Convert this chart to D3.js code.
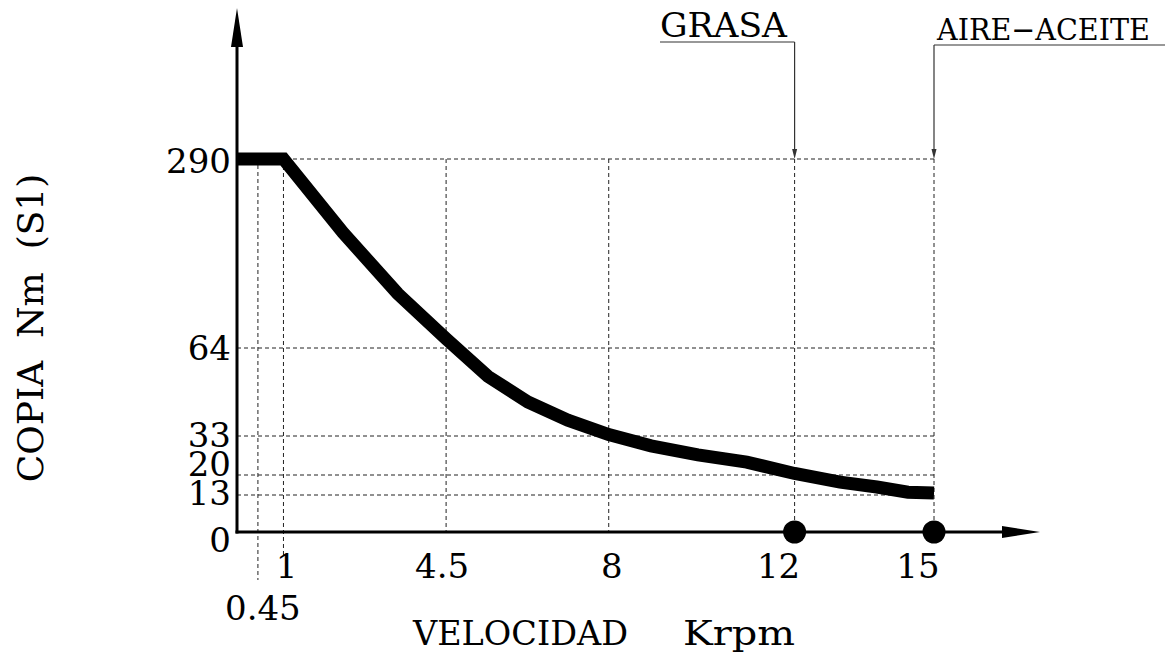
<!DOCTYPE html>
<html>
<head>
<meta charset="utf-8">
<script src="https://cdn.jsdelivr.net/npm/d3@7"></script>
<style>
  html, body { margin: 0; padding: 0; background: #fff; }
  svg { display: block; }
  text { font-family: "DejaVu Serif", "Liberation Serif", serif; fill: #000; white-space: pre; }
</style>
</head>
<body>
<svg id="chart" width="1165" height="656"></svg>
<script>
// ---- data ----
const xTicks = [0.45, 1, 4.5, 8, 12, 15];
const xTickLabels = ["0.45", "1", "4.5", "8", "12", "15"];
const yTicks = [0, 13, 20, 33, 64, 290];
const yTickLabels = ["0", "13", "20", "33", "64", "290"];
const speed  = [0, 1, 2.28, 3.46, 4.5, 5.4, 6.26, 7.12, 8, 8.91, 9.92, 10.97, 12, 12.98, 13.77, 14.44, 15];
const torque = [290, 290, 202, 129, 75, 54, 45, 38.6, 33.5, 29.7, 26.7, 24.3, 20.5, 17.5, 15.8, 14, 13.7];
const markerSpeeds = [12, 15];
const lubricationLabels = ["GRASA", "AIRE\u2212ACEITE"];
const xTitle = ["VELOCIDAD", "Krpm"];
const yTitle = "COPIA  Nm  (S1)";

// ---- scales ----
const svg = d3.select("#chart");
const x = d3.scaleLinear().domain([0, 15]).range([237, 934]);
// the drawing uses an uneven (piecewise) torque axis
const y = d3.scaleLinear().domain(yTicks).range([532, 495, 475, 436, 348, 159]);

const dash = "4,3";

// ---- horizontal dashed grid ----
yTicks.filter(v => v > 0).forEach(v => {
  svg.append("line")
    .attr("x1", x(0)).attr("x2", x(15))
    .attr("y1", y(v)).attr("y2", y(v))
    .attr("stroke", "#222").attr("stroke-width", 1)
    .attr("stroke-dasharray", dash);
});

// ---- vertical dashed grid ----
xTicks.forEach(v => {
  let y1 = y(290), y2 = y(0);
  if (v === 0.45) { y1 = y(290) + 6; y2 = 580; }
  if (v === 1) { y2 = 555; }
  svg.append("line")
    .attr("x1", x(v)).attr("x2", x(v))
    .attr("y1", y1).attr("y2", y2)
    .attr("stroke", "#222").attr("stroke-width", 1)
    .attr("stroke-dasharray", dash);
});

// ---- axes ----
svg.append("line").attr("x1", x(0)).attr("x2", x(0))
  .attr("y1", y(0) + 1.5).attr("y2", 40)
  .attr("stroke", "#000").attr("stroke-width", 3);
svg.append("path")
  .attr("d", `M${x(0)},8 L${x(0) - 6},47 L${x(0) + 6},47 Z`)
  .attr("fill", "#000");
svg.append("line").attr("x1", x(0) - 1.5).attr("x2", 1010)
  .attr("y1", y(0)).attr("y2", y(0))
  .attr("stroke", "#000").attr("stroke-width", 3);
svg.append("path")
  .attr("d", `M1040,${y(0)} L1002,${y(0) - 6} L1002,${y(0) + 6} Z`)
  .attr("fill", "#000");

// ---- torque curve ----
const line = d3.line().x((d, i) => x(speed[i])).y(d => y(d));
svg.append("path")
  .attr("d", line(torque))
  .attr("fill", "none")
  .attr("stroke", "#000")
  .attr("stroke-width", 13)
  .attr("stroke-linejoin", "miter")
  .attr("stroke-linecap", "butt");

// ---- markers on x axis ----
svg.selectAll("circle.mk").data(markerSpeeds).enter().append("circle")
  .attr("class", "mk")
  .attr("cx", d => x(d)).attr("cy", y(0)).attr("r", 11.5)
  .attr("fill", "#000");

// ---- lubrication leaders ----
const leaderY = [42, 45];
const labelX = [660, 937];
const labelSize = [33, 30];
const labelLen = [127, 213];
markerSpeeds.forEach((s, i) => {
  const px = x(s);
  const lx = i === 0 ? 660 : px;
  const rx = i === 0 ? px : 1165;
  svg.append("line").attr("x1", lx).attr("x2", rx)
    .attr("y1", leaderY[i]).attr("y2", leaderY[i])
    .attr("stroke", "#333").attr("stroke-width", 1.2);
  svg.append("line").attr("x1", px).attr("x2", px)
    .attr("y1", leaderY[i]).attr("y2", y(290) - 6)
    .attr("stroke", "#333").attr("stroke-width", 1.2);
  svg.append("path")
    .attr("d", `M${px},${y(290)} L${px - 2.5},${y(290) - 10} L${px + 2.5},${y(290) - 10} Z`)
    .attr("fill", "#333");
  svg.append("text")
    .attr("x", labelX[i]).attr("y", leaderY[i] - 5)
    .attr("font-size", labelSize[i])
    .attr("textLength", labelLen[i]).attr("lengthAdjust", "spacingAndGlyphs")
    .text(lubricationLabels[i]);
});

// ---- x tick labels ----
const xLabelDx = { "0.45": 5, "1": 3, "4.5": -4, "8": 3, "12": -16, "15": -16 };
xTicks.forEach((v, i) => {
  const lab = xTickLabels[i];
  svg.append("text")
    .attr("x", x(v) + xLabelDx[lab])
    .attr("y", v === 0.45 ? 620 : 578)
    .attr("text-anchor", "middle")
    .attr("font-size", 34)
    .text(lab);
});

// ---- y tick labels ----
const yLabelDy = { "0": 8, "13": -2, "20": -11, "33": -1, "64": 0, "290": 2 };
yTicks.forEach((v, i) => {
  const lab = yTickLabels[i];
  svg.append("text")
    .attr("x", 231)
    .attr("y", y(v) + yLabelDy[lab])
    .attr("dy", "0.36em")
    .attr("text-anchor", "end")
    .attr("font-size", 34)
    .text(lab);
});

// ---- axis titles ----
svg.append("text").attr("x", 413).attr("y", 645)
  .attr("font-size", 34).attr("textLength", 215).attr("lengthAdjust", "spacingAndGlyphs")
  .text(xTitle[0]);
svg.append("text").attr("x", 683).attr("y", 645)
  .attr("font-size", 34).attr("textLength", 112).attr("lengthAdjust", "spacingAndGlyphs")
  .text(xTitle[1]);
svg.append("text")
  .attr("transform", "translate(43,328) rotate(-90)")
  .attr("text-anchor", "middle")
  .attr("font-size", 36)
  .attr("xml:space", "preserve")
  .text(yTitle);
</script>
</body>
</html>
